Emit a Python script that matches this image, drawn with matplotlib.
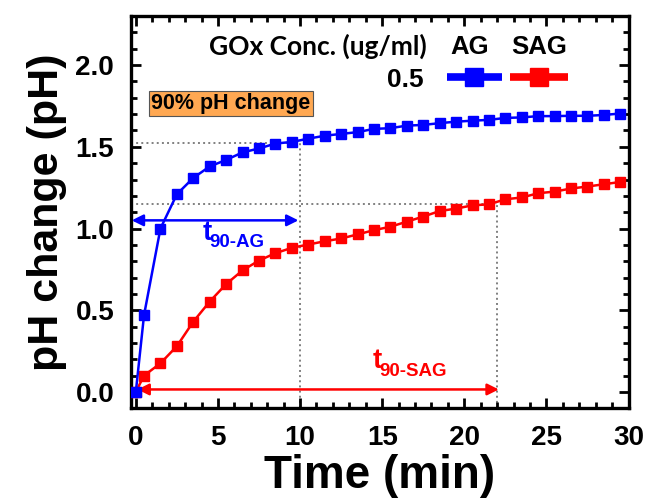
import matplotlib
matplotlib.use("Agg")
import matplotlib.pyplot as plt
from matplotlib.ticker import MultipleLocator

# time points (min)
time = [0, 0.5, 1.5, 2.5, 3.5, 4.5, 5.5, 6.5, 7.5, 8.5, 9.5, 10.5, 11.5, 12.5, 13.5, 14.5,
        15.5, 16.5, 17.5, 18.5, 19.5, 20.5, 21.5, 22.5, 23.5, 24.5, 25.5, 26.5, 27.5, 28.5, 29.5]

# pH change, AG
ph_ag = [0.0, 0.47, 1.00, 1.21, 1.31, 1.38, 1.42, 1.466, 1.49, 1.52, 1.53, 1.55, 1.568, 1.579,
         1.59, 1.61, 1.614, 1.63, 1.634, 1.645, 1.654, 1.66, 1.665, 1.677, 1.68, 1.688, 1.688,
         1.69, 1.69, 1.695, 1.704]

# pH change, SAG
ph_sag = [0.0, 0.10, 0.175, 0.28, 0.43, 0.553, 0.66, 0.744, 0.804, 0.849, 0.882, 0.902, 0.922,
          0.939, 0.964, 0.99, 1.011, 1.042, 1.073, 1.107, 1.122, 1.142, 1.148, 1.179, 1.19,
          1.216, 1.226, 1.245, 1.257, 1.271, 1.285]

# 90% levels and t90 times
ph90_ag = 1.525
ph90_sag = 1.152
t90_ag = 10
t90_sag = 22

blue = "#0000FF"
red = "#FF0000"
grey = "#808080"

plt.rcParams["font.family"] = ["Liberation Sans", "DejaVu Sans"]
plt.rcParams["font.weight"] = "bold"

fig = plt.figure(figsize=(6.48, 5.04), dpi=100)
ax = fig.add_axes([0.202, 0.19, 0.768, 0.778])

# dotted guide lines
ax.plot([-0.3, t90_ag], [ph90_ag, ph90_ag], ls=":", color=grey, lw=1.4, zorder=1)
ax.plot([t90_ag, t90_ag], [-0.1, ph90_ag], ls=":", color=grey, lw=1.4, zorder=1)
ax.plot([-0.3, t90_sag], [ph90_sag, ph90_sag], ls=":", color=grey, lw=1.4, zorder=1)
ax.plot([t90_sag, t90_sag], [-0.1, ph90_sag], ls=":", color=grey, lw=1.4, zorder=1)

# data
ax.plot(time, ph_sag, color=red, lw=1.8, marker="s", ms=7.5, zorder=3)
ax.plot(time, ph_ag, color=blue, lw=1.8, marker="s", ms=7.5, zorder=4)

# t90 arrows
ax.annotate("", xy=(-0.25, 1.05), xytext=(t90_ag - 0.1, 1.05),
            arrowprops=dict(arrowstyle="<|-|>", color=blue, lw=1.8, mutation_scale=17,
                            shrinkA=0, shrinkB=0), zorder=5)
ax.annotate("", xy=(0.1, 0.015), xytext=(t90_sag + 0.1, 0.015),
            arrowprops=dict(arrowstyle="<|-|>", color=red, lw=1.8, mutation_scale=17,
                            shrinkA=0, shrinkB=0), zorder=2)

ax.text(4.05, 0.93, "t", color=blue, fontsize=20, fontweight="bold", ha="left", va="baseline")
ax.text(4.5, 0.885, "90-AG", color=blue, fontsize=13.5, fontweight="bold", ha="left", va="baseline")
ax.text(14.4, 0.148, "t", color=red, fontsize=20, fontweight="bold", ha="left", va="baseline")
ax.text(14.85, 0.10, "90-SAG", color=red, fontsize=13.5, fontweight="bold", ha="left", va="baseline")

# 90% box
ax.text(0.041, 0.777, "90% pH change", transform=ax.transAxes, fontsize=15.5, fontweight="bold",
        ha="left", va="center",
        bbox=dict(boxstyle="square,pad=0.1", facecolor="#FFA852", edgecolor="#555555", lw=0.8))

# legend, drawn by hand
ax.text(0.594, 0.922, "GOx Conc. (ug/ml)", transform=ax.transAxes, fontsize=19,
        family=["Lato", "DejaVu Sans"], fontweight="bold", ha="right", va="center")
ax.text(0.681, 0.922, "AG", transform=ax.transAxes, fontsize=18.5, fontweight="bold",
        ha="center", va="center")
ax.text(0.820, 0.922, "SAG", transform=ax.transAxes, fontsize=18.5, fontweight="bold",
        ha="center", va="center")
ax.text(0.588, 0.837, "0.5", transform=ax.transAxes, fontsize=19, fontweight="bold",
        ha="right", va="center")
ax.plot([0.635, 0.745], [0.844, 0.844], transform=ax.transAxes, color=blue, lw=5.5,
        solid_capstyle="butt", clip_on=False)
ax.plot([0.69], [0.844], transform=ax.transAxes, color=blue, marker="s", ms=13, clip_on=False)
ax.plot([0.762, 0.879], [0.844, 0.844], transform=ax.transAxes, color=red, lw=5.5,
        solid_capstyle="butt", clip_on=False)
ax.plot([0.8205], [0.844], transform=ax.transAxes, color=red, marker="s", ms=13, clip_on=False)

ax.set_xlim(-0.3, 30)
ax.set_ylim(-0.1, 2.3)
ax.xaxis.set_major_locator(MultipleLocator(5))
ax.xaxis.set_minor_locator(MultipleLocator(1))
ax.yaxis.set_major_locator(MultipleLocator(0.5))
ax.yaxis.set_minor_locator(MultipleLocator(0.1))
ax.yaxis.set_major_formatter(matplotlib.ticker.FormatStrFormatter("%.1f"))

ax.tick_params(which="both", direction="in", top=True, right=True, width=2)
ax.tick_params(which="major", length=7, labelsize=20, pad=12)
ax.tick_params(which="minor", length=4)
for s in ax.spines.values():
    s.set_linewidth(2.4)

ax.set_xlabel("Time (min)", fontsize=33, fontweight="bold", labelpad=2)
ax.set_ylabel("pH change (pH)", fontsize=31, fontweight="bold", labelpad=6)

fig.savefig("out.png", dpi=100)
